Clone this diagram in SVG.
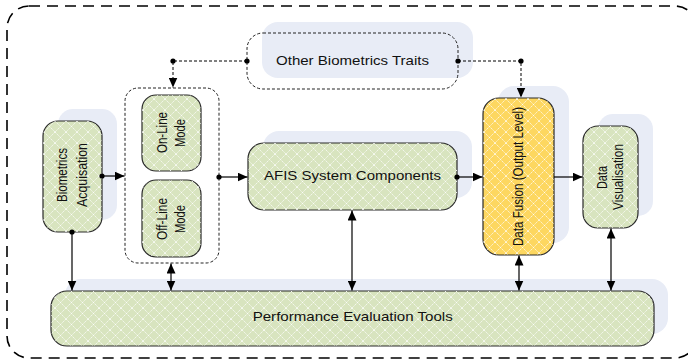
<svg xmlns="http://www.w3.org/2000/svg" width="688" height="361" viewBox="0 0 688 361">
<defs>
<pattern id="hatch" width="11" height="11" patternUnits="userSpaceOnUse">
<path d="M0,0 L11,11 M11,0 L0,11" stroke="#ffffff" stroke-width="1" stroke-dasharray="1.6 0.8" fill="none" opacity="0.75"/>
</pattern>
<marker id="arr" markerUnits="userSpaceOnUse" markerWidth="11" markerHeight="9" refX="10" refY="4.5" orient="auto-start-reverse">
<path d="M0,0 L10,4.5 L0,9 z" fill="#000"/>
</marker>
<style>
.sh{fill:#e8ecf6;stroke:none}
.g{fill:#d8e4bf;stroke:#2a2a2a;stroke-width:1.2}
.y{fill:#fdd760;stroke:#2a2a2a;stroke-width:1.2}
.hx{fill:url(#hatch);stroke:none}
.dot{fill:none;stroke:#222;stroke-width:1;stroke-dasharray:3 2}
.t{font-family:"Liberation Sans",Arial,sans-serif;font-size:13px;fill:#111}
.r{font-size:14.5px}
.c{fill:none;stroke:#000;stroke-width:1.2}
.cd{fill:none;stroke:#000;stroke-width:1;stroke-dasharray:3 2}
.pt{fill:#000}
</style>
</defs>
<rect x="7" y="6" width="690" height="352" rx="22" fill="none" stroke="#000" stroke-width="1.6" stroke-dasharray="11 7"/>

<g id="other-traits">
<rect class="sh" x="262" y="22" width="211" height="56" rx="16"/>
<rect x="247" y="33" width="211" height="56" rx="16" fill="#fff" class="dot"/>
<text class="t" x="352.5" y="65" text-anchor="middle" textLength="153" lengthAdjust="spacingAndGlyphs">Other Biometrics Traits</text>
</g>

<g id="biometrics-acquisation">
<rect class="sh" x="58" y="109" width="59" height="111" rx="15"/>
<rect class="g" x="43" y="121" width="59" height="111" rx="15"/>
<rect class="hx" x="43" y="121" width="59" height="111" rx="15"/>
<text class="t r" transform="translate(67,175) rotate(-90)" text-anchor="middle" textLength="54" lengthAdjust="spacingAndGlyphs">Biometrics</text>
<text class="t r" transform="translate(87,175) rotate(-90)" text-anchor="middle" textLength="64" lengthAdjust="spacingAndGlyphs">Acquisation</text>
</g>

<g id="mode-container">
<rect class="dot" x="125" y="88" width="94" height="175" rx="13" fill="none"/>
</g>

<g id="online-mode">
<rect class="g" x="142" y="95" width="59" height="76" rx="14"/>
<rect class="hx" x="142" y="95" width="59" height="76" rx="14"/>
<text class="t r" transform="translate(167,132.5) rotate(-90)" text-anchor="middle" textLength="41" lengthAdjust="spacingAndGlyphs">On-Line</text>
<text class="t r" transform="translate(185,133) rotate(-90)" text-anchor="middle" textLength="28" lengthAdjust="spacingAndGlyphs">Mode</text>
</g>

<g id="offline-mode">
<rect class="g" x="142" y="180" width="59" height="77" rx="14"/>
<rect class="hx" x="142" y="180" width="59" height="77" rx="14"/>
<text class="t r" transform="translate(167,219) rotate(-90)" text-anchor="middle" textLength="42" lengthAdjust="spacingAndGlyphs">Off-Line</text>
<text class="t r" transform="translate(185,219) rotate(-90)" text-anchor="middle" textLength="28" lengthAdjust="spacingAndGlyphs">Mode</text>
</g>

<g id="afis">
<rect class="sh" x="263" y="131" width="209" height="67" rx="16"/>
<rect class="g" x="248" y="143" width="209" height="67" rx="16"/>
<rect class="hx" x="248" y="143" width="209" height="67" rx="16"/>
<text class="t" x="352.5" y="179.5" text-anchor="middle" textLength="177" lengthAdjust="spacingAndGlyphs">AFIS System Components</text>
</g>

<g id="data-fusion">
<rect class="sh" x="498" y="86" width="71" height="157" rx="16"/>
<rect class="y" x="483" y="98" width="71" height="157" rx="16"/>
<rect class="hx" x="483" y="98" width="71" height="157" rx="16"/>
<text class="t r" transform="translate(523,176.5) rotate(-90)" text-anchor="middle" textLength="139" lengthAdjust="spacingAndGlyphs">Data Fusion (Output Level)</text>
</g>

<g id="data-visualisation">
<rect class="sh" x="598" y="114" width="55" height="102" rx="15"/>
<rect class="g" x="583" y="126" width="55" height="102" rx="15"/>
<rect class="hx" x="583" y="126" width="55" height="102" rx="15"/>
<text class="t r" transform="translate(607,177.5) rotate(-90)" text-anchor="middle" textLength="23" lengthAdjust="spacingAndGlyphs">Data</text>
<text class="t r" transform="translate(623,177) rotate(-90)" text-anchor="middle" textLength="66" lengthAdjust="spacingAndGlyphs">Visualisation</text>
</g>

<g id="performance">
<rect class="sh" x="65" y="279" width="603" height="55" rx="16"/>
<rect class="g" x="51" y="291" width="603" height="55" rx="16"/>
<rect class="hx" x="51" y="291" width="603" height="55" rx="16"/>
<text class="t" x="352.7" y="320.5" text-anchor="middle" textLength="200" lengthAdjust="spacingAndGlyphs">Performance Evaluation Tools</text>
</g>

<g id="connectors">
<path class="cd" d="M247,61 H173 V87.5" marker-end="url(#arr)"/>
<path class="cd" d="M458,61 H521 V97.5" marker-end="url(#arr)"/>
<path class="c" d="M102,176 H124.5" marker-end="url(#arr)"/>
<path class="c" d="M219,177 H247.5" marker-end="url(#arr)"/>
<path class="c" d="M457,177 H482.5" marker-end="url(#arr)"/>
<path class="c" d="M554,177 H582.5" marker-end="url(#arr)"/>
<path class="c" d="M72,232 V290.5" marker-end="url(#arr)" stroke="#444"/>
<path class="c" d="M171,263.5 V290.5" marker-start="url(#arr)" marker-end="url(#arr)"/>
<path class="c" d="M352,210.5 V290.5" marker-start="url(#arr)" marker-end="url(#arr)"/>
<path class="c" d="M519,255.5 V290.5" marker-start="url(#arr)" marker-end="url(#arr)"/>
<path class="c" d="M611,228.5 V290.5" marker-start="url(#arr)" marker-end="url(#arr)"/>
<circle class="pt" cx="247" cy="61" r="2.6"/>
<circle class="pt" cx="173" cy="61" r="2.6"/>
<circle class="pt" cx="458" cy="61" r="2.6"/>
<circle class="pt" cx="521" cy="61" r="2.6"/>
<circle class="pt" cx="102" cy="176" r="2.6"/>
<circle class="pt" cx="219" cy="177" r="2.6"/>
<circle class="pt" cx="457" cy="177" r="2.6"/>
<circle class="pt" cx="72" cy="232" r="2.6"/>
</g>
</svg>
